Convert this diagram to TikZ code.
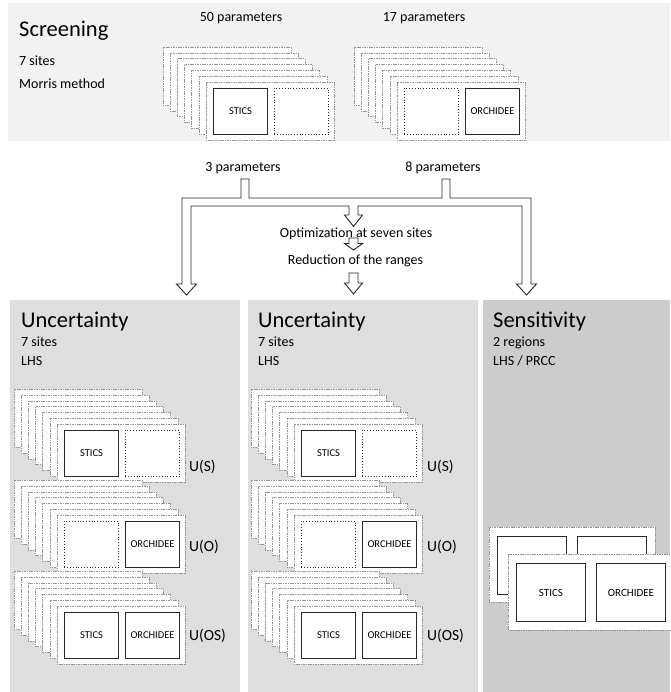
\documentclass[tikz,border=0pt]{standalone}
\usepackage{fontspec}
\setmainfont{Carlito}
\definecolor{scrbg}{RGB}{242,242,242}
\definecolor{uncbg}{RGB}{222,222,222}
\definecolor{senbg}{RGB}{204,204,204}
\definecolor{cardline}{RGB}{150,150,150}
\definecolor{boxline}{RGB}{40,40,40}
\tikzset{
  card/.style={draw=cardline, fill=white, line width=0.6pt, dash pattern=on 1.6pt off 0.8pt},
  modelbox/.style={draw=boxline, fill=white, line width=1.1pt, inner sep=0pt,
    minimum width=54pt, minimum height=46pt, font=\fontsize{10.5}{12}\selectfont},
  emptybox/.style={draw=boxline, fill=white, line width=0.8pt, dotted, inner sep=0pt,
    minimum width=54pt, minimum height=46pt},
  bigbox/.style={draw=boxline, fill=white, line width=1pt, inner sep=0pt,
    minimum width=69pt, minimum height=58pt, font=\fontsize{11}{13}\selectfont},
  paneltitle/.style={anchor=base west, inner sep=0pt, font=\fontsize{22.5}{27}\selectfont},
  sub/.style={anchor=base west, inner sep=0pt, font=\fontsize{14}{16}\selectfont},
  midtext/.style={anchor=base, inner sep=0pt, font=\fontsize{14}{16}\selectfont},
  ulabel/.style={anchor=west, inner sep=0pt, font=\fontsize{15.5}{18}\selectfont},
  hollow/.style={draw=black!85, fill=white, line width=0.9pt, line join=miter},
}
% #1 x, #2 y (front card top-left), #3 name, #4 left style, #5 left text, #6 right style, #7 right text
\newcommand{\mystack}[7]{%
  \foreach \i in {6,5,4,3,2,1} {\draw[card] ({#1-7.2*\i},{#2-5.8*\i}) rectangle ++(128,58);}
  \draw[card] (#1,#2) rectangle ++(128,58);
  \node[#4, anchor=north west] (#3a) at ({#1+7},{#2+6}) {#5};
  \node[#6, anchor=north west] (#3b) at ({#1+68},{#2+6}) {#7};
}
\begin{document}
\begin{tikzpicture}[x=1pt, y=-1pt]
\fill[white] (0,0) rectangle (670,692);
\useasboundingbox (0,0) rectangle (670,692);

% ---------- Screening panel ----------
\fill[scrbg] (8,3) rectangle (670,141);
\node[paneltitle] (scrT) at (19,37) {Screening};
\node[sub] (scr1) at (19,66) {7 sites};
\node[sub] (scr2) at (19,89) {Morris method};
\node[midtext] (p50) at (241,21.5) {50 parameters};
\node[midtext] (p17) at (424,21.5) {17 parameters};
\mystack{206}{82}{scrA}{modelbox}{STICS}{emptybox}{}
\mystack{397}{82}{scrB}{emptybox}{}{modelbox}{ORCHIDEE}

% ---------- bottom panels ----------
\fill[uncbg] (10,300) rectangle (240,692);
\fill[uncbg] (248,300) rectangle (478,692);
\fill[senbg] (483,300) rectangle (670,692);

\node[paneltitle] (u1T) at (21,327.5) {Uncertainty};
\node[sub] (u11) at (21,346) {7 sites};
\node[sub] (u12) at (21,365) {LHS};
\node[paneltitle] (u2T) at (258,327.5) {Uncertainty};
\node[sub] (u21) at (258,346) {7 sites};
\node[sub] (u22) at (258,365) {LHS};
\node[paneltitle] (sT) at (493,327.5) {Sensitivity};
\node[sub] (s1) at (493,346) {2 regions};
\node[sub] (s2) at (493,365) {LHS / PRCC};

% Uncertainty 1 stacks
\mystack{57}{424}{uAS}{modelbox}{STICS}{emptybox}{}
\mystack{57}{515}{uAO}{emptybox}{}{modelbox}{ORCHIDEE}
\mystack{57}{606}{uAOS}{modelbox}{STICS}{modelbox}{ORCHIDEE}
\node[ulabel] (lAS) at (189,467) {U(S)};
\node[ulabel] (lAO) at (189,547) {U(O)};
\node[ulabel] (lAOS) at (189,636) {U(OS)};

% Uncertainty 2 stacks
\mystack{294}{424}{uBS}{modelbox}{STICS}{emptybox}{}
\mystack{294}{515}{uBO}{emptybox}{}{modelbox}{ORCHIDEE}
\mystack{294}{606}{uBOS}{modelbox}{STICS}{modelbox}{ORCHIDEE}
\node[ulabel] (lBS) at (427,467) {U(S)};
\node[ulabel] (lBO) at (427,547) {U(O)};
\node[ulabel] (lBOS) at (427,636) {U(OS)};

% Sensitivity cards
\draw[card] (489,527) rectangle (655,602);
\node[bigbox, anchor=north west] (sbA) at (497,536) {};
\node[bigbox, anchor=north west] (sbB) at (577,536) {};
\draw[card] (508,554) rectangle (674,630);
\node[bigbox, anchor=north west] (sfA) at (516,563) {STICS};
\node[bigbox, anchor=north west] (sfB) at (596,563) {ORCHIDEE};

% ---------- middle flow ----------
\node[midtext] (p3) at (243,171.5) {3 parameters};
\node[midtext] (p8) at (443,171.5) {8 parameters};
\node[midtext] (opt) at (356,237) {Optimization at seven sites};
\node[midtext] (red) at (355.5,265) {Reduction of the ranges};

\draw[hollow] (186.5,295) -- (176.5,284) -- (182,284) -- (182,198) -- (241,198) -- (241,179)
  -- (249,179) -- (249,198) -- (442,198) -- (442,179) -- (450,179) -- (450,198)
  -- (531,198) -- (531,284) -- (536.5,284) -- (526.5,295) -- (516.5,284) -- (522,284)
  -- (522,206) -- (358,206) -- (358,215) -- (362.5,215) -- (353.5,226.5) -- (344.5,215)
  -- (349,215) -- (349,206) -- (191,206) -- (191,284) -- (196.5,284) -- cycle;
\draw[hollow] (349,238) -- (358,238) -- (358,243.5) -- (362.5,243.5) -- (353.5,250)
  -- (344.5,243.5) -- (349,243.5) -- cycle;
\draw[hollow] (349,273) -- (358,273) -- (358,283) -- (362.5,283) -- (353.5,294)
  -- (344.5,283) -- (349,283) -- cycle;
\end{tikzpicture}
\end{document}
